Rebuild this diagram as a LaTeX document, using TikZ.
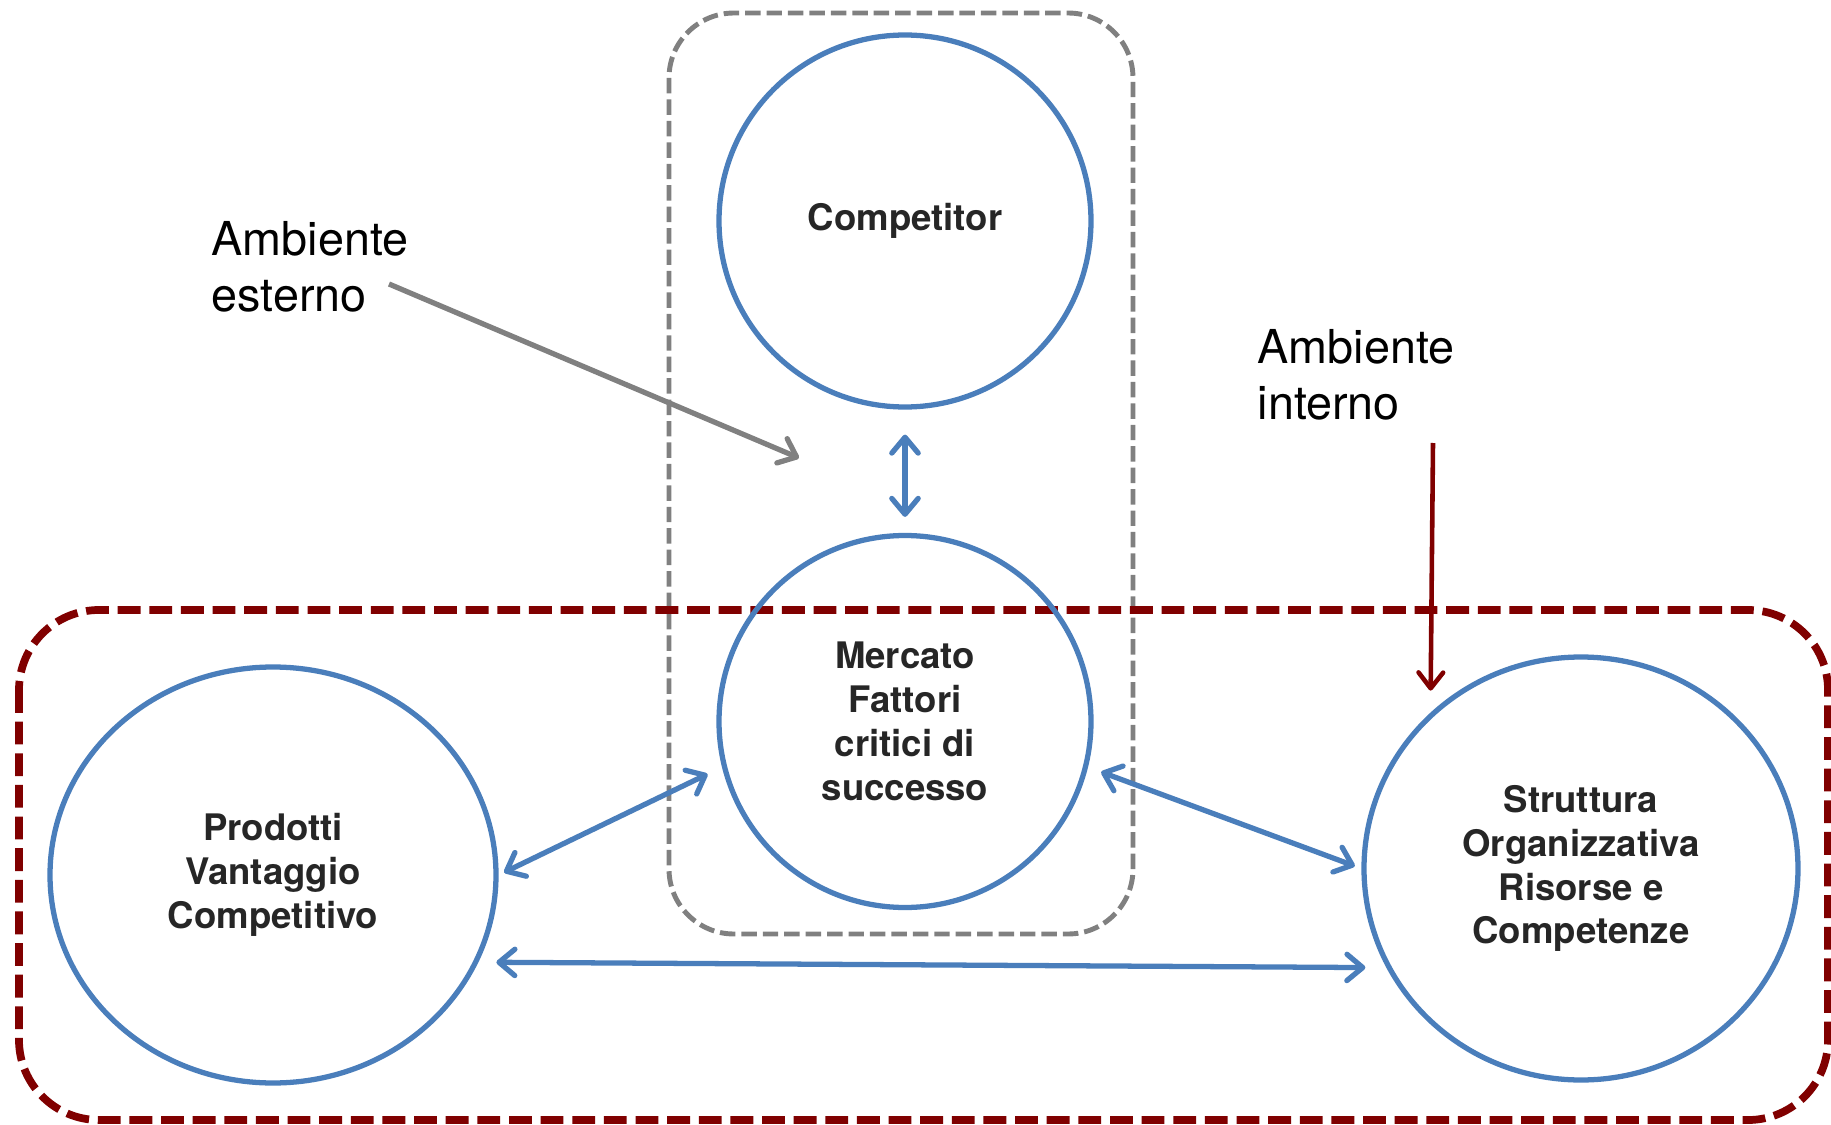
\documentclass[tikz,border=0pt]{standalone}
\usepackage{fontspec}
\setmainfont{TeX Gyre Heros}
\usetikzlibrary{arrows.meta,shapes.geometric}
\definecolor{circblue}{RGB}{74,126,187}
\definecolor{intred}{RGB}{128,0,0}
\definecolor{extgray}{RGB}{128,128,128}

\begin{document}
\begin{tikzpicture}[x=0.1mm,y=-0.1mm]
            \tikzset{
                factor/.style={circle,draw=circblue,line width=1.5pt,minimum size=37.2mm,inner sep=0pt,
                    align=center,text=black!85,font=\bfseries\fontsize{10.4}{12.5}\selectfont},
                note/.style={anchor=west,inner sep=0pt,align=left,font=\fontsize{13.3}{15.9}\selectfont},
                extbox/.style={draw=extgray,line width=1.4pt,dash pattern=on 4.4pt off 1.7pt,rounded corners=6.5mm},
                intbox/.style={draw=intred,line width=2.2pt,dash pattern=on 6.5pt off 2.5pt,rounded corners=8mm},
                link/.style={<->,>={Straight Barb[length=4.5pt,width=7.5pt,round]},draw=circblue,line width=1.5pt},
                extarrow/.style={->,>={Straight Barb[length=4.5pt,width=7.5pt,round]},draw=extgray,line width=1.5pt},
                intarrow/.style={->,>={Straight Barb[length=4.5pt,width=7pt,round]},draw=intred,line width=1.3pt}
            }
            \useasboundingbox (0,0) rectangle (1831,1125);

            % environments
            \draw[extbox] (669,13) rectangle (1133,934);
            \draw[intbox] (19,610) rectangle (1828,1120);

            % factors
            \node[factor] (comp) at (905,221) {Competitor};
            \node[factor] (merc) at (905,721.5) {Mercato\\Fattori\\critici di\\successo};
            \node[factor,ellipse,minimum width=44.6mm,minimum height=41.6mm] (prod) at (273,875) {Prodotti\\Vantaggio\\Competitivo};
            \node[factor,ellipse,minimum width=43.4mm,minimum height=42.3mm] (strut) at (1581,868.5) {Struttura\\Organizzativa\\Risorse e\\Competenze};

            % labels
            \node[note] (est) at (211,267) {Ambiente\\esterno};
            \node[note] (int) at (1257,375) {Ambiente\\interno};
            \coordinate (esttail) at (389,284);
            \coordinate (esthead) at (799,458);
            \coordinate (inttail) at (1433,443);

            %edges
            \draw[extarrow] (esttail) -- (esthead);
            \draw[intarrow,shorten >=2.2mm] (inttail) -- (strut.134);
            \draw[link,shorten <=2.5mm,shorten >=1.6mm] (comp.south) -- (merc.north);
            \draw[link,shorten <=0.6mm,shorten >=1.6mm] (prod.east) -- (merc.194);
            \draw[link,shorten <=1.4mm,shorten >=0.7mm] (merc.-14) -- (strut.west);
            \draw[link,shorten <=1.8mm,shorten >=2.1mm] (prod.-23) -- (strut.207);
\end{tikzpicture}
\end{document}
